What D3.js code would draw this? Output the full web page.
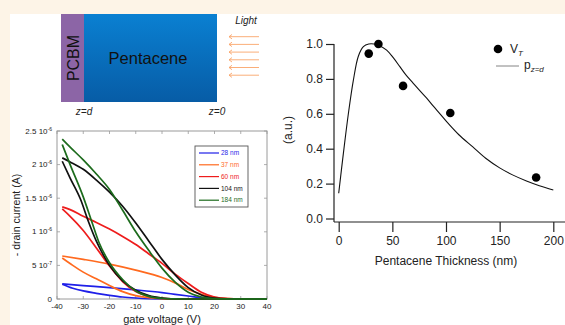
<!DOCTYPE html>
<html>
<head>
<meta charset="utf-8">
<script src="https://cdn.jsdelivr.net/npm/d3@7"></script>
<style>
  html, body { margin: 0; padding: 0; background: #fdf4e7; }
  svg { display: block; font-family: "Liberation Sans", Arial, sans-serif; }
</style>
</head>
<body>
<svg id="fig" width="565" height="325"></svg>
<script>
// ---- transfer curves (gate voltage V, drain current in 1e-7 A) ----
const sweepNames = ['28 nm', '37 nm', '60 nm', '104 nm', '184 nm'];
const sweepColors = ['#1f1fe8', '#ff6a1f', '#ee1c1c', '#111111', '#1c6b1c'];

const fwd28 = [[-38, 2.2], [-34, 1.6], [-30, 1.2], [-25, 0.85], [-20, 0.55], [-15, 0.3], [-10, 0.15], [-5, 0.05], [0, 0.02], [10, 0], [40, 0]];
const rev28 = [[-38, 2.25], [-30, 2.0], [-20, 1.7], [-10, 1.35], [0, 0.95], [5, 0.7], [10, 0.45], [15, 0.2], [20, 0.05], [25, 0], [40, 0]];

const fwd37 = [[-38, 6.1], [-34, 5.0], [-30, 4.0], [-25, 3.0], [-20, 2.0], [-15, 1.1], [-10, 0.5], [-5, 0.2], [0, 0.06], [5, 0.01], [10, 0], [40, 0]];
const rev37 = [[-38, 6.4], [-30, 5.9], [-20, 5.2], [-10, 4.3], [0, 3.2], [5, 2.4], [10, 1.4], [15, 0.7], [20, 0.25], [25, 0.05], [30, 0], [40, 0]];

const fwd60 = [[-38, 13.4], [-35, 12.3], [-30, 10.2], [-25, 7.6], [-20, 4.9], [-15, 2.6], [-10, 1.1], [-5, 0.4], [0, 0.1], [5, 0.02], [10, 0], [40, 0]];
const rev60 = [[-38, 13.7], [-35, 13.3], [-30, 12.3], [-25, 11.4], [-20, 10.4], [-15, 9.3], [-10, 8.1], [-5, 6.7], [0, 5.3], [5, 3.7], [10, 2.3], [15, 1.0], [20, 0.3], [25, 0.05], [30, 0], [40, 0]];

const fwd104 = [[-38, 20.5], [-35, 18.0], [-31, 14.8], [-28, 11.5], [-25, 8.6], [-22, 6.3], [-20, 5.0], [-15, 2.7], [-10, 1.3], [-5, 0.5], [0, 0.15], [5, 0.03], [10, 0], [40, 0]];
const rev104 = [[-38, 21.0], [-35, 20.4], [-30, 19.3], [-25, 17.7], [-20, 15.9], [-15, 13.8], [-10, 11.3], [-5, 8.6], [0, 5.9], [5, 3.6], [10, 1.7], [15, 0.6], [20, 0.15], [25, 0.02], [30, 0], [40, 0]];

const fwd184 = [[-38, 23.0], [-35, 20.0], [-30, 15.2], [-27, 11.8], [-24, 8.4], [-20, 5.4], [-15, 2.9], [-10, 1.2], [-5, 0.4], [0, 0.1], [5, 0.02], [10, 0], [40, 0]];
const rev184 = [[-38, 23.8], [-35, 22.6], [-30, 20.7], [-25, 18.6], [-20, 16.3], [-15, 13.2], [-10, 10.0], [-5, 7.2], [0, 4.6], [5, 2.5], [10, 1.0], [15, 0.3], [20, 0.05], [25, 0], [40, 0]];

const sweeps = [[fwd28, rev28], [fwd37, rev37], [fwd60, rev60], [fwd104, rev104], [fwd184, rev184]];

const gateTicks = [-40, -30, -20, -10, 0, 10, 20, 30, 40];
const currentTicks = [0, 5e-7, 1e-6, 1.5e-6, 2e-6, 2.5e-6];
const currentLabels = [['0', ''], ['5 10', '-7'], ['1 10', '-6'], ['1.5 10', '-6'], ['2 10', '-6'], ['2.5 10', '-6']];

// ---- threshold shift vs thickness ----
const thickness = [28, 37, 60, 104, 184];
const vtNorm = [0.945, 1.0, 0.76, 0.605, 0.235];

const modelThickness = [0, 4.3, 9, 13.6, 18.3, 23, 28, 33, 38, 44.7, 51, 57, 63, 69.5, 76, 82, 88, 94.4, 100.6, 112, 125, 137, 150, 162, 175, 187, 200];
const modelP = [0.145, 0.37, 0.60, 0.79, 0.93, 0.985, 1.0, 1.0, 0.99, 0.965, 0.92, 0.87, 0.82, 0.775, 0.73, 0.69, 0.645, 0.60, 0.555, 0.48, 0.41, 0.345, 0.29, 0.25, 0.215, 0.188, 0.163];

const thickTicks = [0, 50, 100, 150, 200];
const normTicks = [0, 0.2, 0.4, 0.6, 0.8, 1.0];

const svg = d3.select('#fig');

// white panel
svg.append('rect').attr('x', 10).attr('y', 14).attr('width', 555).attr('height', 311).attr('fill', '#ffffff');

// ---- device sketch ----
const defs = svg.append('defs');
const grad = defs.append('linearGradient').attr('id', 'blue').attr('x1', 0).attr('y1', 0).attr('x2', 0).attr('y2', 1);
grad.append('stop').attr('offset', '0%').attr('stop-color', '#0a80d2');
grad.append('stop').attr('offset', '100%').attr('stop-color', '#075ca6');

svg.append('rect').attr('x', 84).attr('y', 14).attr('width', 133).attr('height', 88).attr('fill', 'url(#blue)');
svg.append('rect').attr('x', 61).attr('y', 14).attr('width', 23).attr('height', 88).attr('fill', '#8c65a6');
svg.append('text').attr('x', 148).attr('y', 64).attr('text-anchor', 'middle')
    .attr('font-size', 16.5).attr('fill', '#111').text('Pentacene');
svg.append('text').attr('transform', 'translate(79,58) rotate(-90)').attr('text-anchor', 'middle')
    .attr('font-size', 16).attr('fill', '#111').text('PCBM');
svg.append('text').attr('x', 246).attr('y', 24).attr('text-anchor', 'middle')
    .attr('font-size', 10).attr('font-style', 'italic').attr('fill', '#222').text('Light');

const arrowYs = d3.range(6).map(i => 36.7 + i * 7.7);
svg.selectAll('.ray').data(arrowYs).enter().append('path')
    .attr('class', 'ray')
    .attr('d', y => `M259,${y}H229M232,${y - 2.2}L229,${y}L232,${y + 2.2}`)
    .attr('fill', 'none').attr('stroke', '#f9a56a').attr('stroke-width', 0.9);

svg.append('text').attr('x', 84).attr('y', 115).attr('text-anchor', 'middle')
    .attr('font-size', 10).attr('font-style', 'italic').attr('fill', '#222').text('z=d');
svg.append('text').attr('x', 217).attr('y', 115).attr('text-anchor', 'middle')
    .attr('font-size', 10).attr('font-style', 'italic').attr('fill', '#222').text('z=0');

// ---- transfer curves panel ----
const gx = d3.scaleLinear().domain([-40, 40]).range([57, 267]);
const gy = d3.scaleLinear().domain([0, 2.5e-6]).range([299, 131]);
const tc = svg.append('g');

tc.append('rect').attr('x', gx(-40)).attr('y', gy(2.5e-6))
    .attr('width', gx(40) - gx(-40)).attr('height', gy(0) - gy(2.5e-6))
    .attr('fill', 'none').attr('stroke', '#9a9a9a').attr('stroke-width', 1);

// inward ticks on all four sides
tc.selectAll('.tb').data(gateTicks).enter().append('path')
    .attr('d', v => `M${gx(v)},${gy(0)}v-3M${gx(v)},${gy(2.5e-6)}v3`)
    .attr('stroke', '#9a9a9a').attr('stroke-width', 0.8);
tc.selectAll('.tl').data(currentTicks).enter().append('path')
    .attr('d', v => `M${gx(-40)},${gy(v)}h3M${gx(40)},${gy(v)}h-3`)
    .attr('stroke', '#9a9a9a').attr('stroke-width', 0.8);

tc.selectAll('.xl').data(gateTicks).enter().append('text')
    .attr('x', v => gx(v)).attr('y', gy(0) + 10)
    .attr('text-anchor', 'middle').attr('font-size', 8).attr('fill', '#222')
    .text(v => v);

const yl = tc.selectAll('.yl').data(currentTicks).enter().append('text')
    .attr('x', gx(-40) - 5).attr('y', v => gy(v) + 2.5)
    .attr('text-anchor', 'end').attr('font-size', 8).attr('fill', '#222');
yl.append('tspan').text((v, i) => currentLabels[i][0]);
yl.append('tspan').attr('dy', -3).attr('font-size', 5).text((v, i) => currentLabels[i][1]);

tc.append('text').attr('transform', `translate(20,${(gy(0) + gy(2.5e-6)) / 2}) rotate(-90)`)
    .attr('text-anchor', 'middle').attr('font-size', 10.5).attr('fill', '#222').text('- drain current (A)');
tc.append('text').attr('x', (gx(-40) + gx(40)) / 2).attr('y', 323)
    .attr('text-anchor', 'middle').attr('font-size', 11).attr('fill', '#222').text('gate voltage (V)');

const sweepLine = d3.line().x(d => gx(d[0])).y(d => gy(d[1] * 1e-7)).curve(d3.curveMonotoneX);
sweeps.forEach((pair, i) => {
    tc.selectAll(null).data(pair).enter().append('path')
        .attr('d', sweepLine)
        .attr('fill', 'none').attr('stroke', sweepColors[i]).attr('stroke-width', 1.7);
});

// legend box
const lg = tc.append('g').attr('transform', 'translate(195,146)');
lg.append('rect').attr('width', 53).attr('height', 61).attr('fill', '#fff')
    .attr('stroke', '#555').attr('stroke-width', 0.9);
sweepNames.forEach((n, i) => {
    const y = 7 + i * 11.8;
    lg.append('line').attr('x1', 4).attr('x2', 24).attr('y1', y).attr('y2', y)
        .attr('stroke', sweepColors[i]).attr('stroke-width', 1.2);
    lg.append('text').attr('x', 26).attr('y', y + 2.2).attr('font-size', 6.5)
        .attr('fill', sweepColors[i]).text(n);
});

// ---- VT vs thickness panel ----
const tx = d3.scaleLinear().domain([0, 200]).range([338.7, 553.3]);
const ty = d3.scaleLinear().domain([0, 1]).range([218.5, 44]);
const rp = svg.append('g').attr('font-size', 12).attr('fill', '#222');

rp.append('g').attr('transform', 'translate(334,0)')
    .call(d3.axisLeft(ty).tickValues(normTicks).tickFormat(d3.format('.1f')).tickSizeOuter(0).tickSize(8).tickPadding(3))
    .call(g => g.select('.domain').attr('d', `M0,${ty(1)}V${ty(0) + 3.5}`).attr('stroke-width', 1.2).attr('stroke', '#222'))
    .call(g => g.selectAll('.tick line').attr('stroke-width', 1.2).attr('stroke', '#222'))
    .call(g => g.selectAll('.tick text').attr('font-size', 12).attr('fill', '#222')
        .attr('font-family', '"Liberation Sans", Arial, sans-serif'));

rp.append('g').attr('transform', `translate(0,${ty(0) + 3.5})`)
    .call(d3.axisBottom(tx).tickValues(thickTicks).tickSizeOuter(0).tickSize(10).tickPadding(4))
    .call(g => g.select('.domain').attr('d', 'M334,0H565').attr('stroke-width', 1.2).attr('stroke', '#222'))
    .call(g => g.selectAll('.tick line').attr('stroke-width', 1.2).attr('stroke', '#222'))
    .call(g => g.selectAll('.tick text').attr('font-size', 12).attr('fill', '#222')
        .attr('font-family', '"Liberation Sans", Arial, sans-serif'));

rp.append('text').attr('x', 446).attr('y', 265).attr('text-anchor', 'middle')
    .attr('font-size', 12).text('Pentacene Thickness (nm)');
rp.append('text').attr('transform', 'translate(292,130) rotate(-90)').attr('text-anchor', 'middle')
    .attr('font-size', 12).text('(a.u.)');

const model = modelThickness.map((t, i) => [t, modelP[i]]);
rp.append('path').datum(model)
    .attr('d', d3.line().x(d => tx(d[0])).y(d => ty(d[1])).curve(d3.curveCatmullRom))
    .attr('fill', 'none').attr('stroke', '#111').attr('stroke-width', 1.1);

rp.selectAll('.vt').data(thickness).enter().append('circle')
    .attr('cx', d => tx(d)).attr('cy', (d, i) => ty(vtNorm[i]))
    .attr('r', 4.3).attr('fill', '#000');

// legend
rp.append('circle').attr('cx', 498).attr('cy', 49).attr('r', 4.3).attr('fill', '#000');
const l1 = rp.append('text').attr('x', 510).attr('y', 53).attr('font-size', 12);
l1.append('tspan').text('V');
l1.append('tspan').attr('dy', 3).attr('font-size', 8).attr('font-style', 'italic').text('T');
rp.append('line').attr('x1', 496).attr('x2', 519).attr('y1', 66).attr('y2', 66)
    .attr('stroke', '#666').attr('stroke-width', 0.8);
const l2 = rp.append('text').attr('x', 524).attr('y', 69).attr('font-size', 12);
l2.append('tspan').text('p');
l2.append('tspan').attr('dy', 3).attr('font-size', 8).attr('font-style', 'italic').text('z=d');
</script>
</body>
</html>
